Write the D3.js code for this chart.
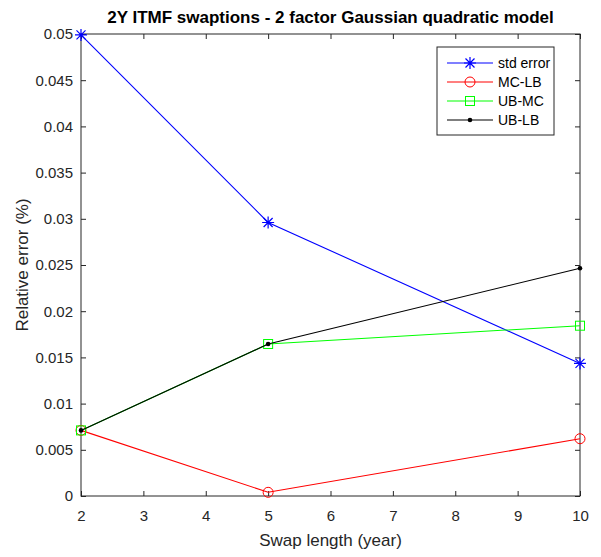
<!DOCTYPE html>
<html>
<head>
<meta charset="utf-8">
<script src="https://cdn.jsdelivr.net/npm/d3@7"></script>
<style>
body { margin: 0; background: #fff; }
text { font-family: "Liberation Sans", Arial, sans-serif; }
</style>
</head>
<body>
<div id="chart"></div>
<script>
// 2Y ITMF swaptions - relative errors
var w = 601, h = 557;
var swapLength = [2, 5, 10];
var stdError = [0.0499, 0.0296, 0.01435];
var mcLb = [0.0071, 0.0004, 0.0062];
var ubMc = [0.0071, 0.01645, 0.01843];
var ubLb = [0.0071, 0.01645, 0.02465];
var xTicks = [2, 3, 4, 5, 6, 7, 8, 9, 10];
var yTicks = [0, 0.005, 0.01, 0.015, 0.02, 0.025, 0.03, 0.035, 0.04, 0.045, 0.05];

var series = [
  { name: "std error", values: stdError, color: "#0000ff", marker: "star" },
  { name: "MC-LB", values: mcLb, color: "#ff0000", marker: "circle" },
  { name: "UB-MC", values: ubMc, color: "#00ff00", marker: "square" },
  { name: "UB-LB", values: ubLb, color: "#000000", marker: "dot" }
];

var m = { left: 81, right: 21, top: 34, bottom: 61 };
var x = d3.scaleLinear().domain([2, 10]).range([m.left, w - m.right]);
var y = d3.scaleLinear().domain([0, 0.05]).range([h - m.bottom, m.top]);

var svg = d3.select("#chart").append("svg").attr("width", w).attr("height", h);

var axisColor = "#262626";
var tl = 5;

function styleAxis(g) {
  g.select(".domain").remove();
  g.selectAll(".tick line").attr("stroke", axisColor).attr("stroke-width", 1);
  g.selectAll(".tick text").attr("fill", axisColor).style("font-size", "15px");
}

svg.append("g").attr("transform", "translate(0," + (h - m.bottom) + ")")
  .call(d3.axisBottom(x).tickValues(xTicks).tickSize(-tl).tickPadding(14).tickFormat(d3.format("d")))
  .call(styleAxis);
svg.append("g").attr("transform", "translate(0," + m.top + ")")
  .call(d3.axisTop(x).tickValues(xTicks).tickSize(-tl).tickFormat(""))
  .call(styleAxis);
svg.append("g").attr("transform", "translate(" + m.left + ",0)")
  .call(d3.axisLeft(y).tickValues(yTicks).tickSize(-tl).tickPadding(8).tickFormat(function(d) { return d === 0 ? "0" : d3.format("")(+d.toFixed(3)); }))
  .call(styleAxis);
svg.append("g").attr("transform", "translate(" + (w - m.right) + ",0)")
  .call(d3.axisRight(y).tickValues(yTicks).tickSize(-tl).tickFormat(""))
  .call(styleAxis);

svg.append("rect").attr("x", m.left).attr("y", m.top)
  .attr("width", w - m.left - m.right).attr("height", h - m.top - m.bottom)
  .attr("fill", "none").attr("stroke", axisColor).attr("stroke-width", 1);

function drawMarker(g, type, cx, cy, color) {
  if (type === "star") {
    var s = 6;
    var p = "M" + (cx - s) + "," + cy + "H" + (cx + s) +
      "M" + cx + "," + (cy - s) + "V" + (cy + s) +
      "M" + (cx - s * 0.75) + "," + (cy - s * 0.75) + "L" + (cx + s * 0.75) + "," + (cy + s * 0.75) +
      "M" + (cx - s * 0.75) + "," + (cy + s * 0.75) + "L" + (cx + s * 0.75) + "," + (cy - s * 0.75);
    g.append("path").attr("d", p).attr("stroke", color).attr("stroke-width", 1.2).attr("fill", "none");
  } else if (type === "circle") {
    g.append("circle").attr("cx", cx).attr("cy", cy).attr("r", 5).attr("fill", "none").attr("stroke", color).attr("stroke-width", 1);
  } else if (type === "square") {
    g.append("rect").attr("x", cx - 4.5).attr("y", cy - 4.5).attr("width", 9).attr("height", 9).attr("fill", "none").attr("stroke", color).attr("stroke-width", 1);
  } else {
    g.append("circle").attr("cx", cx).attr("cy", cy).attr("r", 2.3).attr("fill", color);
  }
}

var line = d3.line().x(function(d, i) { return x(swapLength[i]); }).y(function(d) { return y(d); });
var plot = svg.append("g");
series.forEach(function(s) {
  plot.append("path").datum(s.values).attr("d", line)
    .attr("fill", "none").attr("stroke", s.color).attr("stroke-width", 1.1);
  s.values.forEach(function(v, i) { drawMarker(plot, s.marker, x(swapLength[i]), y(v), s.color); });
});

// legend
var lg = svg.append("g").attr("transform", "translate(437,47)");
lg.append("rect").attr("width", 117).attr("height", 88).attr("fill", "#fff").attr("stroke", axisColor).attr("stroke-width", 1);
series.forEach(function(s, i) {
  var yy = 16 + i * 19;
  lg.append("line").attr("x1", 10).attr("x2", 56).attr("y1", yy).attr("y2", yy).attr("stroke", s.color).attr("stroke-width", 1.1);
  drawMarker(lg, s.marker, 33, yy, s.color);
  lg.append("text").attr("x", 61).attr("y", yy + 5).text(s.name).style("font-size", "14px").attr("fill", "#000");
});

svg.append("text").attr("x", (m.left + w - m.right) / 2).attr("y", 23).attr("text-anchor", "middle")
  .style("font-size", "17px").style("font-weight", "bold").attr("fill", "#000")
  .text("2Y ITMF swaptions - 2 factor Gaussian quadratic model");
svg.append("text").attr("x", (m.left + w - m.right) / 2).attr("y", 546).attr("text-anchor", "middle")
  .style("font-size", "17px").attr("fill", axisColor).text("Swap length (year)");
svg.append("text").attr("transform", "translate(28," + ((m.top + h - m.bottom) / 2) + ") rotate(-90)")
  .attr("text-anchor", "middle").style("font-size", "17px").attr("fill", axisColor).text("Relative error (%)");
</script>
</body>
</html>
